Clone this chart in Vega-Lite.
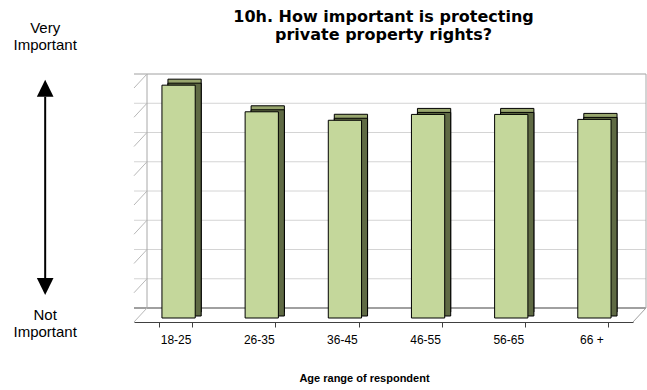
{
  "$schema": "https://vega.github.io/schema/vega-lite/v6.json",
  "width": 499,
  "height": 234,
  "autosize": {"type": "none"},
  "padding": {"left": 134, "top": 88, "right": 14, "bottom": 68},
  "background": "white",
  "config": {"view": {"stroke": null}, "font": "Liberation Sans"},
  "title": {
    "text": ["10h. How important is protecting", "private property rights?"],
    "fontSize": 16,
    "fontWeight": "bold",
    "font": "DejaVu Sans",
    "color": "black",
    "anchor": "middle",
    "offset": -22,
    "lineHeight": 18
  },
  "datasets": {
    "bars": [
      {"age": "18-25", "value": 7.96},
      {"age": "26-35", "value": 7.05},
      {"age": "36-45", "value": 6.76},
      {"age": "46-55", "value": 6.96},
      {"age": "56-65", "value": 6.96},
      {"age": "66 +", "value": 6.79}
    ],
    "ticks": [{"v": 0}, {"v": 1}, {"v": 2}, {"v": 3}, {"v": 4}, {"v": 5}, {"v": 6}, {"v": 7}, {"v": 8}],
    "edges": [{"x": 0}, {"x": 1}],
    "labels": [
      {"x": -0.178, "v": 10.05, "t": "Very\nImportant"},
      {"x": -0.178, "v": 0.24, "t": "Not\nImportant"}
    ],
    "arrow": [{"x": -0.178, "v": 7.7, "v2": 1.45}],
    "heads": [
      {"x": -0.178, "v": 7.99, "dir": "up"},
      {"x": -0.178, "v": 1.21, "dir": "down"}
    ]
  },
  "resolve": {"scale": {"x": "independent"}},
  "layer": [
    {
      "layer": [
        {
          "data": {"name": "ticks"},
          "transform": [{"filter": "datum.v > 0 && datum.v < 8"}],
          "mark": {"type": "rule", "color": "#d4d4d4", "strokeWidth": 1, "xOffset": 13, "x2Offset": 13, "yOffset": -14},
          "encoding": {
            "y": {"field": "v", "type": "quantitative", "scale": {"domain": [0, 8], "nice": false}, "axis": null}
          }
        },
        {
          "data": {"name": "ticks"},
          "transform": [{"filter": "datum.v == 8"}],
          "mark": {"type": "rule", "color": "#a0a0a0", "strokeWidth": 1, "xOffset": 13, "x2Offset": 13, "yOffset": -14},
          "encoding": {
            "y": {"field": "v", "type": "quantitative", "axis": null}
          }
        },
        {
          "data": {"name": "ticks"},
          "transform": [{"filter": "datum.v == 0"}],
          "mark": {"type": "rule", "color": "#a0a0a0", "strokeWidth": 2, "xOffset": 13, "x2Offset": 13, "yOffset": -14},
          "encoding": {
            "y": {"field": "v", "type": "quantitative", "axis": null}
          }
        },
        {
          "data": {"name": "edges"},
          "mark": {"type": "rule", "color": "#a8a8a8", "strokeWidth": 1, "xOffset": 13, "yOffset": -14, "y2Offset": -14},
          "encoding": {
            "x": {"field": "x", "type": "quantitative", "scale": {"domain": [0, 1], "nice": false, "zero": false}, "axis": null},
            "y": {"datum": 0, "type": "quantitative"},
            "y2": {"datum": 8}
          }
        },
        {
          "data": {"name": "ticks"},
          "mark": {"type": "point", "shape": "M0,0L1,-1.077", "size": 676, "filled": false, "stroke": "#b8b8b8", "strokeWidth": 1, "opacity": 1},
          "encoding": {
            "x": {"datum": 0, "type": "quantitative"},
            "y": {"field": "v", "type": "quantitative"}
          }
        },
        {
          "data": {"values": [{"x": 1, "v": 0}]},
          "mark": {"type": "point", "shape": "M0,0L1,-1.077", "size": 676, "filled": false, "stroke": "#a0a0a0", "strokeWidth": 1, "opacity": 1},
          "encoding": {
            "x": {"field": "x", "type": "quantitative"},
            "y": {"field": "v", "type": "quantitative"}
          }
        },
        {
          "data": {"name": "labels"},
          "mark": {"type": "text", "lineBreak": "\n", "fontSize": 15, "font": "Liberation Sans", "color": "black", "align": "center", "baseline": "middle", "lineHeight": 17},
          "encoding": {
            "x": {"field": "x", "type": "quantitative"},
            "y": {"field": "v", "type": "quantitative"},
            "text": {"field": "t"}
          }
        },
        {
          "data": {"name": "arrow"},
          "mark": {"type": "rule", "color": "black", "strokeWidth": 2},
          "encoding": {
            "x": {"field": "x", "type": "quantitative"},
            "y": {"field": "v", "type": "quantitative"},
            "y2": {"field": "v2"}
          }
        },
        {
          "data": {"name": "heads"},
          "mark": {"type": "point", "filled": true, "size": 289, "color": "black", "opacity": 1},
          "encoding": {
            "x": {"field": "x", "type": "quantitative"},
            "y": {"field": "v", "type": "quantitative"},
            "shape": {
              "field": "dir",
              "type": "nominal",
              "scale": {"domain": ["up", "down"], "range": ["M0,-1L-0.98,1L0.98,1Z", "M0,1L-0.98,-1L0.98,-1Z"]},
              "legend": null
            }
          }
        }
      ]
    },
    {
      "data": {"name": "bars"},
      "encoding": {
        "x": {
          "field": "age",
          "type": "nominal",
          "sort": null,
          "scale": {"paddingInner": 0.6, "paddingOuter": 0.3},
          "axis": {
            "orient": "bottom",
            "title": "Age range of respondent",
            "titleFont": "Liberation Sans",
            "titleFontSize": 11,
            "titleFontWeight": "bold",
            "titleColor": "black",
            "titleX": 230,
            "titleY": 56,
            "titleBaseline": "middle",
            "labelAngle": 0,
            "labelFont": "Liberation Sans",
            "labelFontSize": 12,
            "labelColor": "black",
            "labelPadding": 7,
            "tickBand": "extent",
            "tickSize": 5,
            "tickColor": "#404040",
            "domainColor": "#404040",
            "grid": false
          }
        },
        "y": {
          "field": "value",
          "type": "quantitative",
          "axis": {
            "orient": "left",
            "title": null,
            "labels": false,
            "values": [0, 1, 2, 3, 4, 5, 6, 7, 8],
            "tickSize": 5,
            "tickColor": "#404040",
            "domainColor": "#404040",
            "grid": false
          }
        }
      },
      "layer": [
        {
          "mark": {"type": "bar", "fill": "#98a66e", "stroke": "black", "strokeWidth": 1, "xOffset": 9, "yOffset": -10, "y2Offset": -10}
        },
        {
          "mark": {"type": "bar", "fill": "#5f6a44", "stroke": "black", "strokeWidth": 1, "xOffset": 9, "yOffset": -6, "y2Offset": -10}
        },
        {
          "mark": {"type": "bar", "fill": "#c4d79b", "stroke": "black", "strokeWidth": 1, "xOffset": 3, "yOffset": -4, "y2Offset": -4}
        }
      ]
    }
  ]
}
